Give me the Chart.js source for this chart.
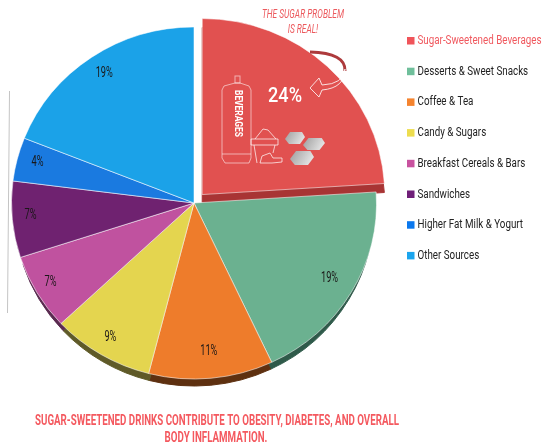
<!DOCTYPE html>
<html>
<head>
<meta charset="utf-8">
<style>
  html, body { margin: 0; padding: 0; background: #fff; }
  canvas { display: block; }
</style>
<script src="https://cdn.jsdelivr.net/npm/chart.js@4"></script>
</head>
<body>
<canvas id="pie" width="542" height="446"></canvas>
<script>
const categories = ["Sugar-Sweetened Beverages", "Desserts & Sweet Snacks", "Coffee & Tea", "Candy & Sugars",
  "Breakfast Cereals & Bars", "Sandwiches", "Higher Fat Milk & Yogurt", "Other Sources"];
const shares = [24, 19, 11, 9, 7, 7, 4, 19];
const faceColors = ["#E15150", "#6BB190", "#EE7C2B", "#E4D54F", "#C0529F", "#6F2270", "#1A7AE0", "#1BA2E8"];
const sideColors = ["#A83434", "#2F5A4A", "#5E3010", "#5F5A28", "#5A2A50"];
const legendColors = ["#F0545A", "#6FBF9B", "#F5842F", "#EDDD4F", "#C8529F", "#6F1F78", "#0B78EE", "#1BA5EE"];
const labelReach = [0, 0.863, 0.86, 0.9, 0.913, 0.9, 0.885, 0.875];
const headline = ["SUGAR-SWEETENED DRINKS CONTRIBUTE TO OBESITY, DIABETES, AND OVERALL", "BODY INFLAMMATION."];
const callout = ["THE SUGAR PROBLEM", "IS REAL!"];
const canLabel = "BEVERAGES";

const TILT = 176.5 / 183;   // the disc is foreshortened a little vertically
const PULL_OUT = 12;        // how far the highlighted slice leaves the pie
const face = '"Roboto", "Liberation Sans", sans-serif';

// Text squeezed horizontally: the installed faces are wider than this poster's lettering.
function squeezed(ctx, text, x, y, sx, align) {
  ctx.save();
  ctx.translate(x, y);
  ctx.scale(sx, 1);
  ctx.textAlign = align || "center";
  ctx.textBaseline = "middle";
  ctx.fillText(text, 0, 0);
  ctx.restore();
}

// Tilted disc plus a darker copy of the lower slices for the thick rim.
const tiltedDisc = {
  id: "tiltedDisc",
  afterDatasetsUpdate(chart) {
    // slide the first slice outwards along its bisector, keeping its radius
    const first = chart.getDatasetMeta(0).data[0];
    const mid = (first.startAngle + first.endAngle) / 2;
    chart.$disc = { cx: first.x, cy: first.y };
    first.x += Math.cos(mid) * PULL_OUT;
    first.y += Math.sin(mid) * PULL_OUT;
  },
  beforeDatasetsDraw(chart) {
    const { ctx } = chart;
    const arcs = chart.getDatasetMeta(0).data;
    const { cx, cy } = chart.$disc;
    sideColors.forEach((side, i) => {
      const arc = arcs[i];
      const o = arc.options, bg = o.backgroundColor, bc = o.borderColor;
      ctx.save();
      ctx.translate(cx, cy + (i === 0 ? 9 : 7));
      ctx.scale(i === 0 ? 1 : 0.985, TILT);
      ctx.translate(-cx, -cy);
      o.backgroundColor = side;
      o.borderColor = side;
      arc.draw(ctx);
      o.backgroundColor = bg;
      o.borderColor = bc;
      ctx.restore();
    });
    ctx.save();
    ctx.translate(0, cy);
    ctx.scale(1, TILT);
    ctx.translate(0, -cy);
  },
  afterDatasetsDraw(chart) {
    const { ctx } = chart;
    ctx.restore();
    const { cy } = chart.$disc;
    // percent labels near the outer edge of each slice
    ctx.save();
    ctx.fillStyle = "#1a1717";
    ctx.font = "14px " + face;
    chart.getDatasetMeta(0).data.forEach((arc, i) => {
      if (i === 0) return;
      const mid = (arc.startAngle + arc.endAngle) / 2;
      const r = arc.outerRadius * labelReach[i];
      const y = arc.y + Math.sin(mid) * r;
      squeezed(ctx, shares[i] + "%", arc.x + Math.cos(mid) * r, cy + (y - cy) * TILT - 2, 0.66);
    });
    ctx.restore();
  }
};

// Legend column to the right of the pie.
const legendColumn = {
  id: "legendColumn",
  afterDraw(chart) {
    const { ctx } = chart;
    ctx.save();
    ctx.font = "12px " + face;
    const sx = 124 / ctx.measureText(categories[0]).width;
    categories.forEach((name, i) => {
      const y = 41 + i * 30.7;
      ctx.fillStyle = legendColors[i];
      ctx.fillRect(407, y - 4, 7.5, 7.5);
      ctx.fillStyle = i === 0 ? "#F0595F" : "#222222";
      squeezed(ctx, name, 417.5, y, sx, "left");
    });
    ctx.restore();
  }
};

// Can, sugar bag, cubes and curved arrow inside the highlighted slice, plus the captions.
const artwork = {
  id: "artwork",
  afterDraw(chart) {
    const { ctx } = chart;
    ctx.save();

    ctx.fillStyle = "#EC5A5E";
    ctx.font = "italic 12px " + face;
    const calloutScale = 82 / ctx.measureText(callout[0]).width;
    squeezed(ctx, callout[0], 303, 15, calloutScale);
    squeezed(ctx, callout[1], 303, 29.5, calloutScale);

    ctx.fillStyle = "#F4595F";
    ctx.font = "bold 14px " + face;
    const headScale = 364 / ctx.measureText(headline[0]).width;
    squeezed(ctx, headline[0], 217, 421, headScale);
    squeezed(ctx, headline[1], 216, 438, headScale);

    ctx.fillStyle = "#ffffff";
    ctx.font = "500 21px " + face;
    squeezed(ctx, shares[0] + "%", 285, 97, 34 / ctx.measureText(shares[0] + "%").width);

    // grey rule left of the pie
    ctx.strokeStyle = "#c4c4c4";
    ctx.lineWidth = 1;
    ctx.beginPath(); ctx.moveTo(9.5, 91); ctx.lineTo(7.5, 313); ctx.stroke();

    // drink can
    ctx.strokeStyle = "rgba(255,255,255,.55)";
    ctx.beginPath();
    ctx.moveTo(224, 86); ctx.lineTo(235, 83); ctx.lineTo(240, 83); ctx.lineTo(249, 86);
    ctx.lineTo(251, 90); ctx.lineTo(251, 158); ctx.lineTo(249, 163); ctx.lineTo(225, 163);
    ctx.lineTo(222, 158); ctx.lineTo(222, 90); ctx.closePath();
    ctx.moveTo(222, 154); ctx.lineTo(251, 154);
    ctx.stroke();
    ctx.strokeRect(235, 76, 5, 7);
    ctx.save();
    ctx.translate(238, 113.5);
    ctx.rotate(Math.PI / 2);
    ctx.fillStyle = "#fff";
    ctx.font = "bold 11px " + face;
    squeezed(ctx, canLabel, 0, 0, 47 / ctx.measureText(canLabel).width);
    ctx.restore();

    // sugar bag and scoop
    ctx.strokeStyle = "rgba(255,255,255,.7)";
    ctx.beginPath();
    ctx.moveTo(251, 139); ctx.lineTo(278, 139); ctx.lineTo(278, 145); ctx.lineTo(251, 145); ctx.closePath();
    ctx.moveTo(254, 145); ctx.lineTo(257, 163); ctx.moveTo(275, 145); ctx.lineTo(273, 153);
    ctx.moveTo(255, 139); ctx.lineTo(263, 129); ctx.lineTo(268, 130); ctx.lineTo(276, 139);
    ctx.moveTo(260, 163); ctx.lineTo(262, 156); ctx.lineTo(270, 153); ctx.lineTo(273, 158); ctx.lineTo(282, 158);
    ctx.lineTo(282, 162); ctx.lineTo(272, 163); ctx.closePath();
    ctx.stroke();

    // sugar cubes
    [[295, 138, 10, 6], [314, 144, 11, 6], [302, 158, 12, 7]].forEach(([x, y, a, b]) => {
      const g = ctx.createLinearGradient(x - a, y - b, x + a, y + b);
      g.addColorStop(0, "#9d9d9d");
      g.addColorStop(1, "#f0f0f0");
      ctx.fillStyle = g;
      ctx.beginPath();
      ctx.moveTo(x - a, y + 1); ctx.lineTo(x - a / 2, y - b); ctx.lineTo(x + a * 0.7, y - b);
      ctx.lineTo(x + a, y - 1); ctx.lineTo(x + a / 2, y + b); ctx.lineTo(x - a * 0.6, y + b);
      ctx.closePath();
      ctx.fill();
    });

    // curved arrow around the value
    ctx.strokeStyle = "#AD3A3C";
    ctx.lineWidth = 3;
    ctx.beginPath();
    ctx.moveTo(310, 52);
    ctx.quadraticCurveTo(346, 53, 345, 71);
    ctx.stroke();
    ctx.strokeStyle = "rgba(255,255,255,.8)";
    ctx.lineWidth = 1;
    ctx.beginPath();
    ctx.moveTo(345, 69);
    ctx.quadraticCurveTo(344, 84, 322, 85);
    ctx.lineTo(319, 78); ctx.lineTo(310, 88); ctx.lineTo(319, 97); ctx.lineTo(322, 90);
    ctx.quadraticCurveTo(345, 88, 345, 69);
    ctx.stroke();
    ctx.restore();
  }
};

new Chart(document.getElementById("pie"), {
  type: "pie",
  data: {
    labels: categories,
    datasets: [{
      data: shares,
      backgroundColor: faceColors,
      borderColor: "rgba(255,255,255,.55)",
      borderWidth: 1,
      clip: false
    }]
  },
  options: {
    responsive: false,
    animation: false,
    layout: { padding: { left: 11, right: 165, top: 20, bottom: 60 } },
    plugins: {
      legend: { display: false },
      title: { display: false },
      tooltip: { enabled: false }
    }
  },
  plugins: [tiltedDisc, legendColumn, artwork]
});
</script>
</body>
</html>
